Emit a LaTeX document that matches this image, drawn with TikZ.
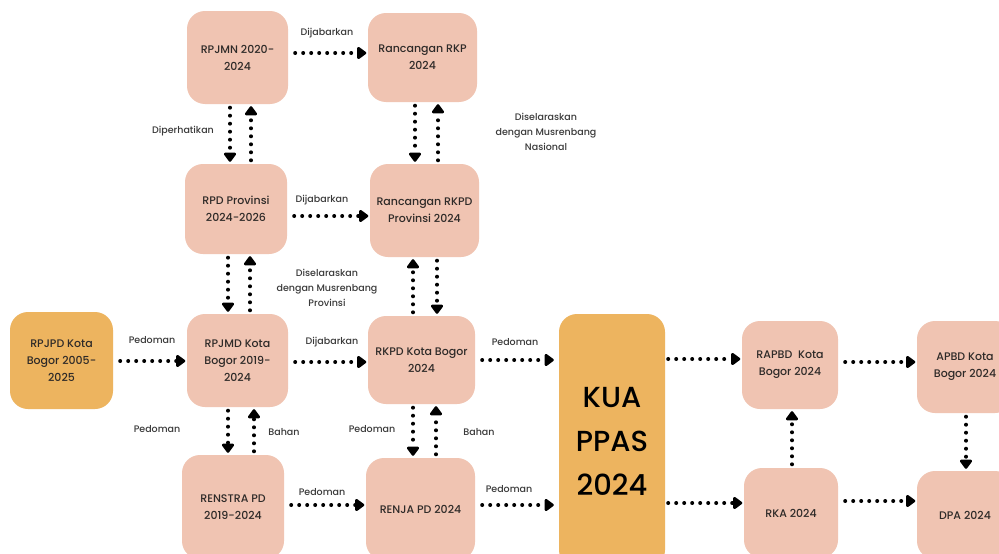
\documentclass[tikz,border=0pt]{standalone}
\usepackage{fontspec}
\setmainfont{Poppins}[UprightFont=* Medium]
\usetikzlibrary{arrows.meta}
\definecolor{pinkbox}{HTML}{F0C4B2}
\definecolor{orangebox}{HTML}{EDB45F}
\definecolor{txt}{HTML}{2E2A28}
\definecolor{lbltxt}{HTML}{3A3A3A}
\begin{document}
\begin{tikzpicture}[x=1pt,y=-1pt,
  box/.style={rounded corners=18pt, fill=pinkbox, align=center, text=txt,
    font=\fontsize{11}{17}\selectfont, inner sep=0pt},
  obox/.style={box, fill=orangebox},
  flowline/.style={line width=4pt, line cap=round, dash pattern=on 0pt off 8pt,
    -{Triangle[length=10pt,width=14pt,round]}},
  hflow/.style={flowline, shorten <=7pt, shorten >=1.5pt},
  vflow/.style={flowline, shorten <=3.5pt, shorten >=2pt},
  lbl/.style={font=\fontsize{9.5}{15}\selectfont, text=lbltxt, align=center, inner sep=0pt}]
\useasboundingbox (0,0) rectangle (999,554);
\clip (0,0) rectangle (999,554);
\fill[white] (0,0) rectangle (999,554);

% nodes
\node[box, minimum width=101pt, minimum height=93pt] (rpjmn) at (237.5,57.5) {RPJMN 2020-\\2024};
\node[box, minimum width=109pt, minimum height=89pt] (rkp) at (422.5,57.5) {Rancangan RKP\\2024};
\node[box, minimum width=102pt, minimum height=90pt] (rpd) at (236,209) {RPD Provinsi\\2024-2026};
\node[box, minimum width=109pt, minimum height=93pt] (rkpdprov) at (424.5,210.5) {Rancangan RKPD\\Provinsi 2024};
\node[obox, minimum width=103pt, minimum height=97pt] (rpjpd) at (61.5,360.5) {RPJPD Kota\\Bogor 2005-\\2025};
\node[box, minimum width=101pt, minimum height=93pt] (rpjmd) at (237.5,360.5) {RPJMD Kota\\Bogor 2019-\\2024};
\node[box, minimum width=107pt, minimum height=88pt] (rkpd) at (421.5,360) {RKPD Kota Bogor\\2024};
\node[box, minimum width=102pt, minimum height=104pt] (renstra) at (233,507) {RENSTRA PD\\2019-2024};
\node[box, minimum width=109pt, minimum height=102pt] (renja) at (420.5,509) {RENJA PD 2024};
\node[obox, minimum width=106pt, minimum height=254pt,
  font=\fontsize{29}{44}\selectfont, text=black] (kua) at (612,441) {KUA\\PPAS\\2024};
\node[box, minimum width=96pt, minimum height=88pt] (rapbd) at (790,365) {RAPBD\ \ Kota\\Bogor 2024};
\node[box, minimum width=96pt, minimum height=92pt] (apbd) at (965,367) {APBD Kota\\Bogor 2024};
\node[box, minimum width=94pt, minimum height=90pt] (rka) at (791,513) {RKA 2024};
\node[box, minimum width=96pt, minimum height=88pt] (dpa) at (965,515) {DPA 2024};

% horizontal connectors
\draw[hflow] ([yshift=4.5pt]rpjmn.east) -- ([yshift=4.5pt]rpjmn.east -| rkp.west);
\draw[hflow] ([yshift=-7pt]rpd.east) -- ([yshift=-7pt]rpd.east -| rkpdprov.west);
\draw[hflow] ([yshift=-0.5pt]rpjpd.east) -- ([yshift=-0.5pt]rpjpd.east -| rpjmd.west);
\draw[hflow] ([yshift=-1.5pt]rpjmd.east) -- ([yshift=-1.5pt]rpjmd.east -| rkpd.west);
\draw[hflow] ([yshift=2pt]renstra.east) -- ([yshift=2pt]renstra.east -| renja.west);
\draw[hflow, shorten >=5pt] (rkpd.east) -- (rkpd.east -| kua.west);
\draw[hflow, shorten >=5pt] ([yshift=4pt]renja.east) -- ([yshift=4pt]renja.east -| kua.west);
\draw[hflow, shorten <=3pt] ([yshift=82pt]kua.east) -- ([yshift=82pt]kua.east -| rapbd.west);
\draw[hflow, shorten <=3pt] ([yshift=-62pt]kua.east) -- ([yshift=-62pt]kua.east -| rka.west);
\draw[hflow] ([yshift=3pt]rapbd.east) -- ([yshift=3pt]rapbd.east -| apbd.west);
\draw[hflow] ([yshift=12pt]rka.east) -- ([yshift=12pt]rka.east -| dpa.west);

% vertical connectors
\draw[vflow] ([xshift=-7.5pt]rpjmn.south) -- ([xshift=-7.5pt]rpjmn.south |- rpd.north);
\draw[vflow] ([xshift=15pt]rpd.north) -- ([xshift=15pt]rpd.north |- rpjmn.south);
\draw[vflow] ([xshift=-7.5pt]rkp.south) -- ([xshift=-7.5pt]rkp.south |- rkpdprov.north);
\draw[vflow] ([xshift=13.5pt]rkpdprov.north) -- ([xshift=13.5pt]rkpdprov.north |- rkp.south);
\draw[vflow] ([xshift=-8pt]rpd.south) -- ([xshift=-8pt]rpd.south |- rpjmd.north);
\draw[vflow] ([xshift=12.5pt]rpjmd.north) -- ([xshift=12.5pt]rpjmd.north |- rpd.south);
\draw[vflow] ([xshift=-8.5pt]rkpd.north) -- ([xshift=-8.5pt]rkpd.north |- rkpdprov.south);
\draw[vflow] ([xshift=12.5pt]rkpdprov.south) -- ([xshift=12.5pt]rkpdprov.south |- rkpd.north);
\draw[vflow] ([xshift=-9.5pt]rpjmd.south) -- ([xshift=-9.5pt]rpjmd.south |- renstra.north);
\draw[vflow] ([xshift=21pt]renstra.north) -- ([xshift=21pt]renstra.north |- rpjmd.south);
\draw[vflow] ([xshift=-8.5pt]rkpd.south) -- ([xshift=-8.5pt]rkpd.south |- renja.north);
\draw[vflow] ([xshift=15.5pt]renja.north) -- ([xshift=15.5pt]renja.north |- rkpd.south);
\draw[vflow] ([xshift=1pt]rka.north) -- ([xshift=1pt]rka.north |- rapbd.south);
\draw[vflow] ([xshift=1pt]apbd.south) -- ([xshift=1pt]apbd.south |- dpa.north);

% labels
\node[lbl] (l1) at (327,33) {Dijabarkan};
\node[lbl] (l2) at (183,131) {Diperhatikan};
\node[lbl] (l3) at (546,132) {Diselaraskan\\dengan Musrenbang\\Nasional};
\node[lbl] (l4) at (322,200) {Dijabarkan};
\node[lbl] (l5) at (327,288) {Diselaraskan\\dengan Musrenbang\\Provinsi};
\node[lbl] (l6) at (152,340) {Pedoman};
\node[lbl] (l7) at (332,342) {Dijabarkan};
\node[lbl] (l8) at (515,342) {Pedoman};
\node[lbl] (l9) at (157,429) {Pedoman};
\node[lbl] (l10) at (284,432) {Bahan};
\node[lbl] (l11) at (372,429) {Pedoman};
\node[lbl] (l12) at (479,432) {Bahan};
\node[lbl] (l13) at (322,492) {Pedoman};
\node[lbl] (l14) at (509,489) {Pedoman};
\end{tikzpicture}
\end{document}
